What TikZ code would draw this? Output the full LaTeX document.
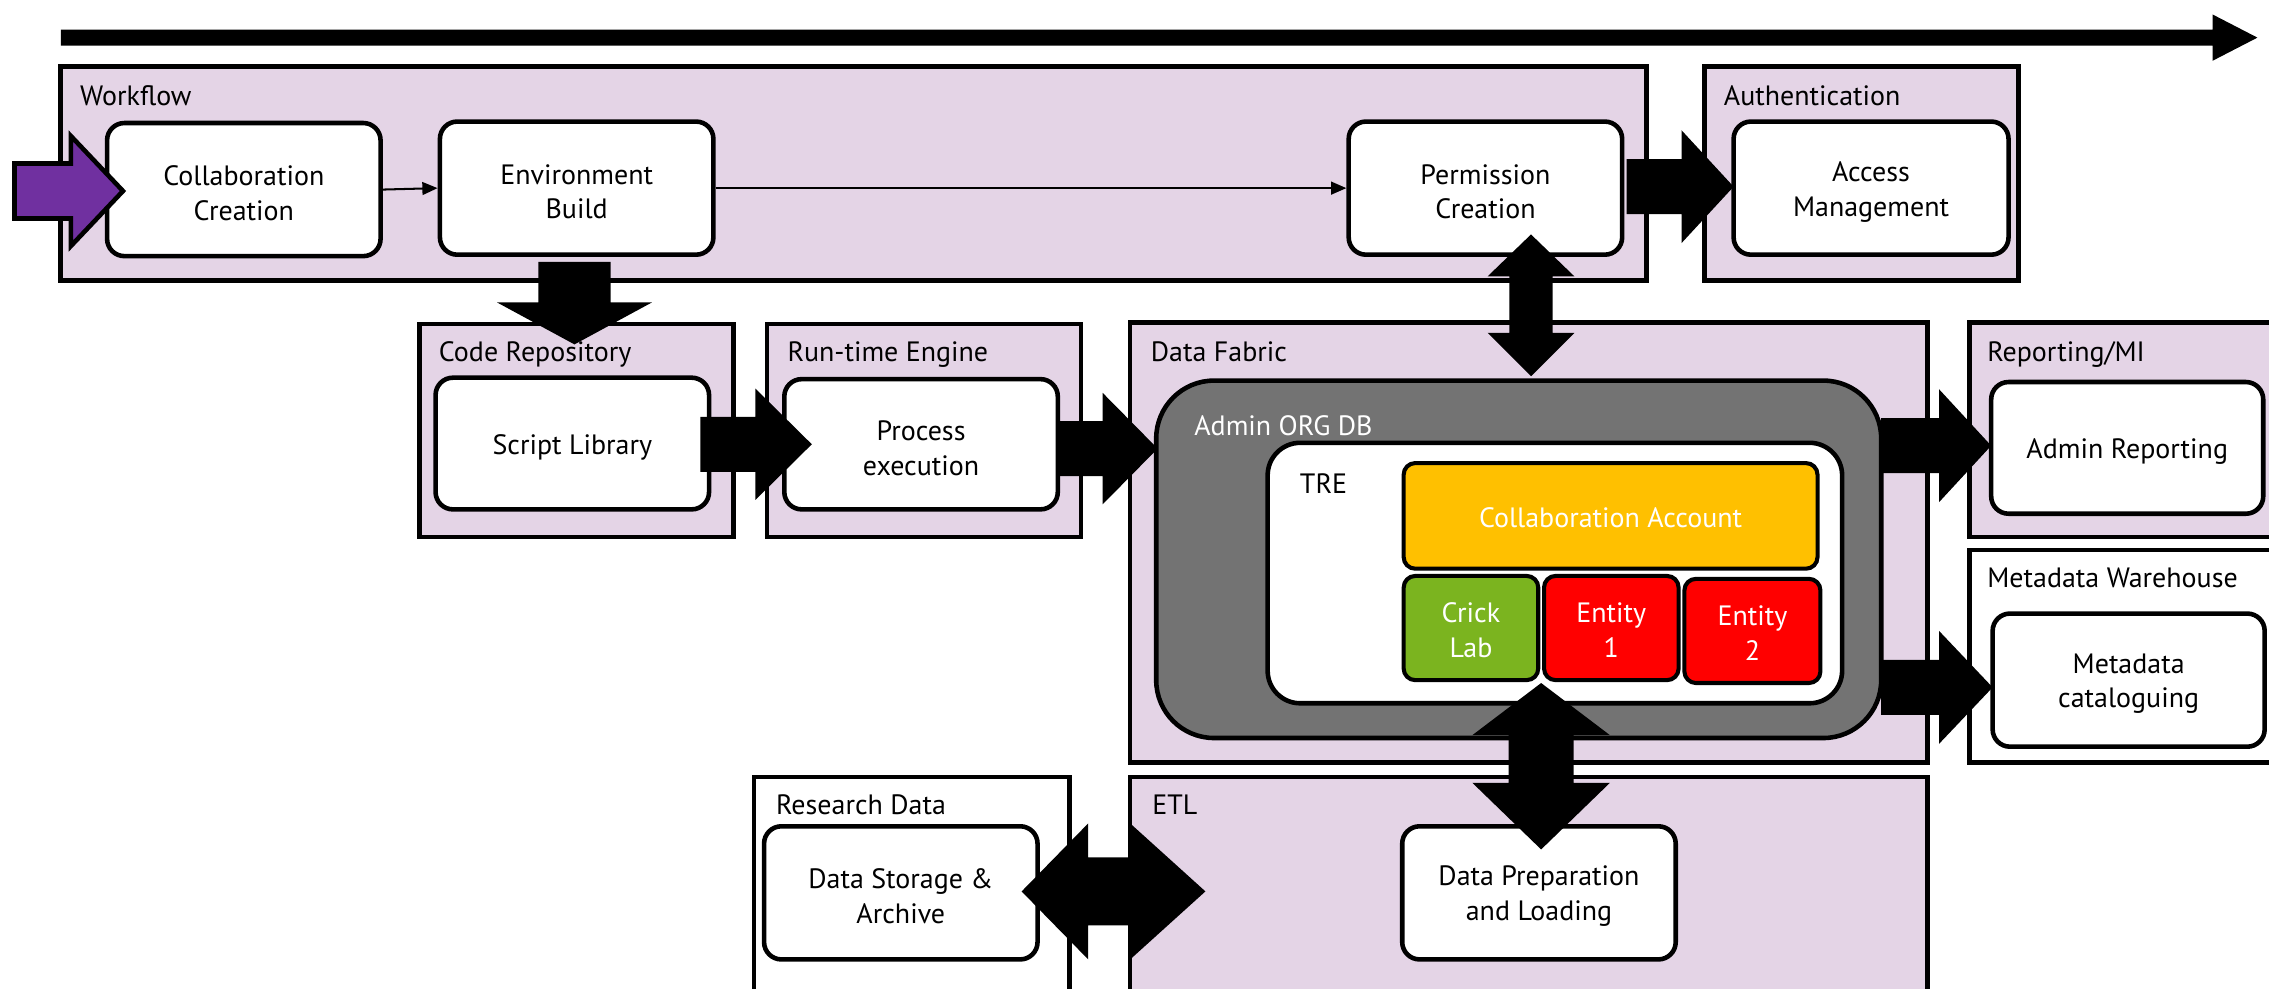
\documentclass[tikz,border=0pt]{standalone}
\usepackage{fontspec}
\setmainfont{PT Sans}
\usetikzlibrary{fit,arrows.meta}
\definecolor{lpurple}{HTML}{E4D4E6}
\definecolor{dgrey}{HTML}{737373}
\definecolor{corange}{HTML}{FFC000}
\definecolor{cgreen}{HTML}{7BB41F}
\definecolor{cred}{HTML}{FF0000}
\definecolor{apurple}{HTML}{7030A0}
% horizontal block arrow: x0 x1 x2 yc h H style
\newcommand\hblk[7]{%
  \path[#7] ({#1},{#4-#5}) -- ({#2},{#4-#5}) -- ({#2},{#4-#6}) -- ({#3},{#4}) -- ({#2},{#4+#6}) -- ({#2},{#4+#5}) -- ({#1},{#4+#5}) -- cycle;}
% vertical block arrow: y0 y1 y2 xc h H
\newcommand\vblk[6]{%
  \fill ({#4-#5},{#1}) -- ({#4-#5},{#2}) -- ({#4-#6},{#2}) -- ({#4},{#3}) -- ({#4+#6},{#2}) -- ({#4+#5},{#2}) -- ({#4+#5},{#1}) -- cycle;}
% vertical double arrow: tipA baseA baseB tipB xc h H
\newcommand\vdbl[7]{%
  \fill ({#5},{#1}) -- ({#5+#7},{#2}) -- ({#5+#6},{#2}) -- ({#5+#6},{#3}) -- ({#5+#7},{#3}) -- ({#5},{#4}) -- ({#5-#7},{#3}) -- ({#5-#6},{#3}) -- ({#5-#6},{#2}) -- ({#5-#7},{#2}) -- cycle;}
% horizontal double arrow: tipA baseA baseB tipB yc h H
\newcommand\hdbl[7]{%
  \fill ({#1},{#5}) -- ({#2},{#5-#7}) -- ({#2},{#5-#6}) -- ({#3},{#5-#6}) -- ({#3},{#5-#7}) -- ({#4},{#5}) -- ({#3},{#5+#7}) -- ({#3},{#5+#6}) -- ({#2},{#5+#6}) -- ({#2},{#5+#7}) -- cycle;}
\begin{document}
\begin{tikzpicture}[x=0.02cm,y=-0.02cm,
  every node/.style={font=\fontsize{11}{13.7}\selectfont},
  container/.style={draw, line width=1.8pt, fill=lpurple, inner sep=0pt},
  wcontainer/.style={draw, line width=1.8pt, fill=white, inner sep=0pt},
  inbox/.style={draw, line width=1.8pt, fill=white, rounded corners=0.24cm, inner sep=0pt},
  colbox/.style={draw, line width=1.6pt, rounded corners=0.16cm, inner sep=0pt},
  txt/.style={align=center, inner sep=0pt, yshift=-0.05cm},
  wtxt/.style={align=center, inner sep=0pt, text=white, yshift=-0.03cm},
  lbl/.style={anchor=base west, inner sep=0pt},
  thin/.style={-{Triangle[length=6pt,width=5pt]}, line width=0.8pt}]
\useasboundingbox (0,0) rectangle (1568,683);
\clip (0,0) rectangle (1568,683);
% top timeline arrow
\hblk{42}{1529}{1560}{26}{5.5}{16}{fill=black}
% containers
\node[container, fit={(42,46) (1138,194)}] (wf) {};
\node[lbl] (wfl) at (55,73) {Workflow};
\node[container, fit={(1178,46) (1395,194)}] (auth) {};
\node[lbl] (authl) at (1191,73) {Authentication};
\node[container, fit={(290,224) (507,371)}] (cr) {};
\node[lbl] (crl) at (303,250) {Code Repository};
\node[container, fit={(530,224) (747,371)}] (rt) {};
\node[lbl] (rtl) at (544,250) {Run-time Engine};
\node[container, fit={(781,223) (1332,527)}] (df) {};
\node[lbl] (dfl) at (795,250) {Data Fabric};
\node[container, fit={(1361,223) (1580,371)}] (rmi) {};
\node[lbl] (rmil) at (1373,250) {Reporting/MI};
\node[wcontainer, fit={(1361,380) (1580,527)}] (mw) {};
\node[lbl] (mwl) at (1373,406) {Metadata Warehouse};
\node[container, fit={(781,537) (1332,700)}] (etl) {};
\node[lbl] (etll) at (796,563) {ETL};
\node[wcontainer, fit={(521,537) (739,700)}] (rd) {};
\node[lbl] (rdl) at (536,563) {Research Data};
% inner boxes
\node[inbox, fit={(74,85) (263,177)}] (cc) {};
\node[txt] (cct) at (cc.center) {Collaboration\\Creation};
\node[inbox, fit={(304,84) (493,176)}] (eb) {};
\node[txt] (ebt) at (eb.center) {Environment\\Build};
\node[inbox, fit={(932,84) (1121,176)}] (pc) {};
\node[txt] (pct) at (pc.center) {Permission\\Creation};
\node[inbox, fit={(1198,84) (1388,176)}] (am) {};
\node[txt] (amt) at (am.center) {Access\\Management};
\node[inbox, fit={(301,261) (490,352)}] (sl) {};
\node[txt] (slt) at (sl.center) {Script Library};
\node[inbox, fit={(542,262) (731,352)}] (pe) {};
\node[txt] (pet) at (pe.center) {Process\\execution};
\node[inbox, fit={(1376,264) (1564,355)}] (ar) {};
\node[txt] (art) at (ar.center) {Admin Reporting};
\node[inbox, fit={(1377,424) (1565,516)}] (mc) {};
\node[txt] (mct) at (mc.center) {Metadata\\cataloguing};
\node[inbox, fit={(528,571) (717,663)}] (ds) {};
\node[txt] (dst) at (ds.center) {Data Storage \&\\Archive};
\node[inbox, fit={(969,571) (1158,663)}] (dp) {};
\node[txt] (dpt) at (dp.center) {Data Preparation\\and Loading};
% Admin ORG DB
\node[draw, line width=1.8pt, fill=dgrey, rounded corners=0.8cm, inner sep=0pt, fit={(799,263) (1300,510)}] (adb) {};
\node[lbl, text=white] (adbl) at (825,301) {Admin ORG DB};
\node[draw, line width=1.8pt, fill=white, rounded corners=0.45cm, inner sep=0pt, fit={(876,306) (1273,486)}] (tre) {};
\node[lbl] (trel) at (898,341) {TRE};
\node[colbox, fill=corange, fit={(970,320) (1256,393)}] (ca) {};
\node[wtxt] (cat) at (ca.center) {Collaboration Account};
\node[colbox, fill=cgreen, fit={(970,398) (1063,470)}] (cl) {};
\node[wtxt] (clt) at (cl.center) {Crick\\Lab};
\node[colbox, fill=cred, fit={(1067,398) (1160,470)}] (e1) {};
\node[wtxt] (e1t) at (e1.center) {Entity\\1};
\node[colbox, fill=cred, fit={(1164,400) (1258,472)}] (e2) {};
\node[wtxt] (e2t) at (e2.center) {Entity\\2};
% thin connectors
\draw[thin] (cc.east) -- (eb.west);
\draw[thin] (eb.east) -- (pc.west);
% block arrows
\hblk{10}{49}{85}{132}{19}{38}{fill=apurple, draw=black, line width=1.8pt, line join=miter}
\hblk{1124}{1162}{1198}{129}{19}{39}{fill=black}
\vblk{181}{209}{238}{397}{25}{53.5}
\vdbl{162}{191}{230}{260}{1058}{15}{30}
\hblk{484}{522}{561}{307}{19}{38.5}{fill=black}
\hblk{731}{762}{800}{310}{19}{38.5}{fill=black}
\hblk{1300}{1340}{1376}{308}{19}{39}{fill=black}
\hblk{1300}{1340}{1377}{475}{19}{39}{fill=black}
\vdbl{472}{508}{541}{587}{1065}{22.5}{47.5}
\hdbl{706}{752}{781}{833}{616}{23.5}{47}
\end{tikzpicture}
\end{document}
